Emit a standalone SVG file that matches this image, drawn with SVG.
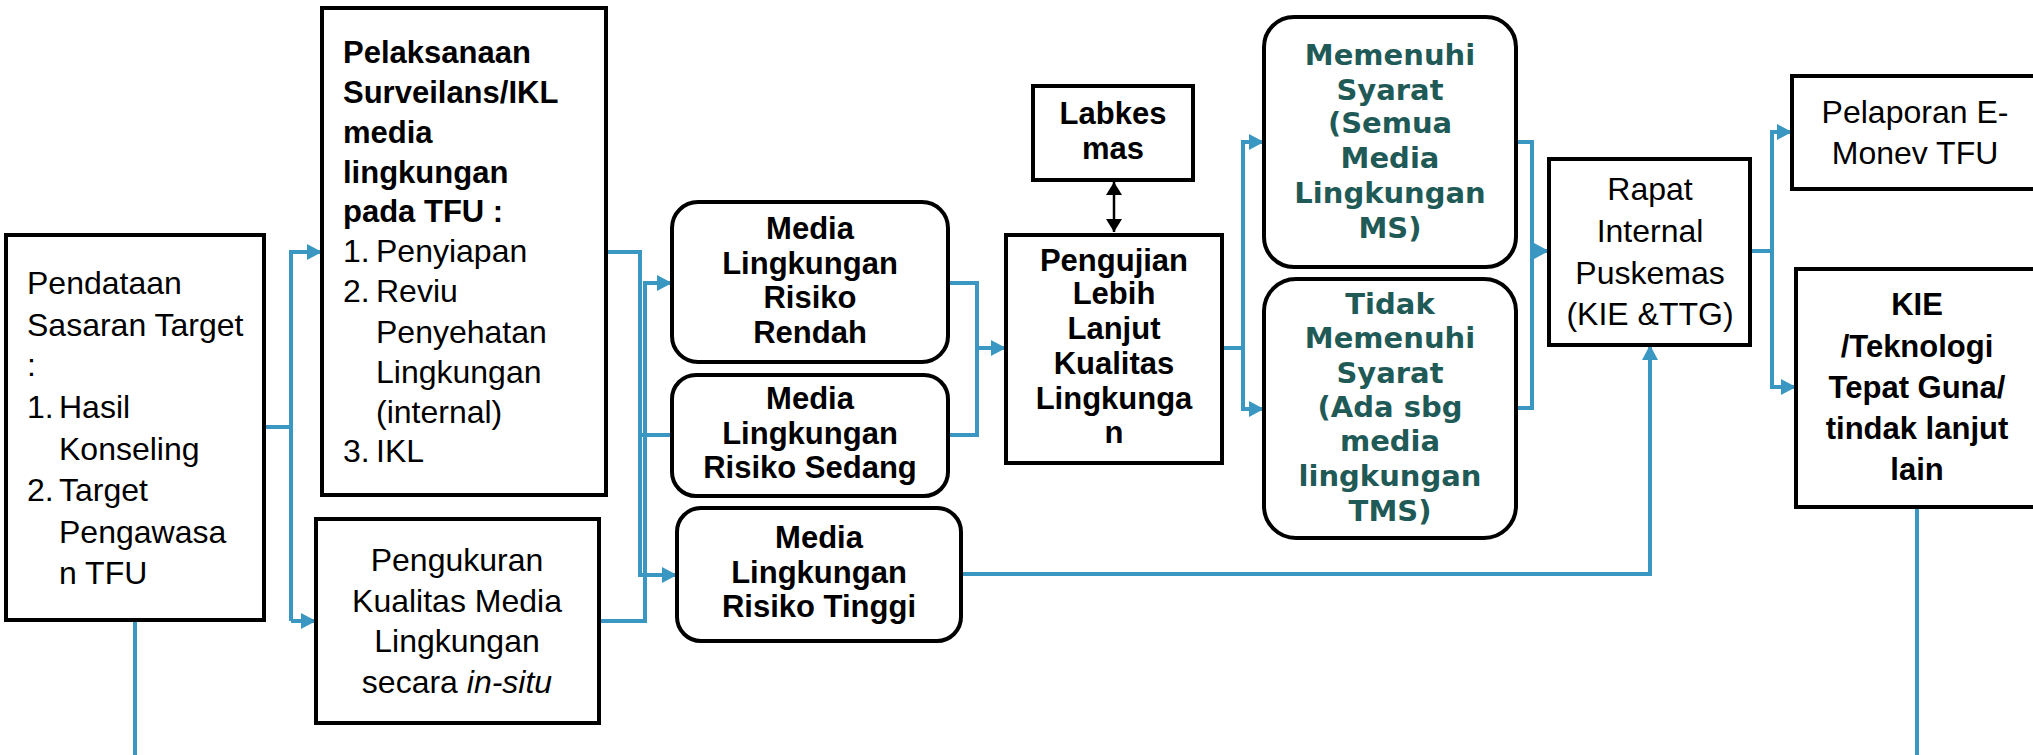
<svg xmlns="http://www.w3.org/2000/svg" width="2033" height="755" viewBox="0 0 2033 755">
<style>
.box{fill:#fff;stroke:#000;stroke-width:4}
.reg{font-family:"Liberation Sans",Arial,sans-serif;font-size:32px;fill:#000}
.bold{font-family:"Liberation Sans",Arial,sans-serif;font-size:31px;font-weight:bold;fill:#000}
.teal{font-family:"DejaVu Sans",sans-serif;font-size:29px;font-weight:bold;fill:#1f5a57}
.c{text-anchor:middle}
.con{fill:none;stroke:#3a97c1;stroke-width:4}
.arr{marker-end:url(#ah)}
</style>
<defs>
<marker id="ah" markerUnits="userSpaceOnUse" markerWidth="16" markerHeight="16" refX="15" refY="8" orient="auto">
<path d="M0,0 L15,8 L0,16 z" fill="#3a97c1"/>
</marker>
<marker id="bk" markerUnits="userSpaceOnUse" markerWidth="16" markerHeight="16" refX="13" refY="8" orient="auto-start-reverse">
<path d="M0,0 L13,8 L0,16 z" fill="#000"/>
</marker>
</defs>
<rect width="2033" height="755" fill="#fff"/>

<g id="connectors">
<path class="con" d="M264,427 H291 V621"/>
<path class="con arr" d="M291,427 V252 H322"/>
<path class="con arr" d="M291,621 H316"/>
<path class="con" d="M135,620 V755"/>
<path class="con arr" d="M606,252 H640 V575 H677"/>
<path class="con arr" d="M599,621 H645 V283 H672"/>
<path class="con" d="M640,435 H672"/>
<path class="con" d="M948,283 H977 V435 H948"/>
<path class="con arr" d="M977,348 H1006"/>
<path d="M1114,182 V232" stroke="#000" stroke-width="2.5" fill="none" marker-start="url(#bk)" marker-end="url(#bk)"/>
<path class="con" d="M1222,348 H1243"/>
<path class="con arr" d="M1243,348 V142 H1264"/>
<path class="con arr" d="M1243,348 V409 H1264"/>
<path class="con" d="M1516,142 H1532 V408 H1516"/>
<path class="con arr" d="M1532,251 H1549"/>
<path class="con arr" d="M961,574 H1650 V345"/>
<path class="con" d="M1750,251 H1772"/>
<path class="con arr" d="M1772,251 V132 H1792"/>
<path class="con arr" d="M1772,251 V387 H1796"/>
<path class="con" d="M1917,507 V755"/>
</g>

<g id="pendataan">
<rect class="box" x="6" y="235" width="258" height="385"/>
<text class="reg"><tspan x="27" y="294">Pendataan</tspan><tspan x="27" y="336">Sasaran Target</tspan><tspan x="27" y="376">:</tspan><tspan x="27" y="418">1.</tspan><tspan x="59" y="418">Hasil</tspan><tspan x="59" y="460">Konseling</tspan><tspan x="27" y="501">2.</tspan><tspan x="59" y="501">Target</tspan><tspan x="59" y="543">Pengawasa</tspan><tspan x="59" y="584">n TFU</tspan></text>
</g>

<g id="pelaksanaan">
<rect class="box" x="322" y="8" width="284" height="487"/>
<text class="bold"><tspan x="343" y="63">Pelaksanaan</tspan><tspan x="343" y="103">Surveilans/IKL</tspan><tspan x="343" y="143">media</tspan><tspan x="343" y="183">lingkungan</tspan><tspan x="343" y="222">pada TFU :</tspan></text>
<text class="reg"><tspan x="343" y="262">1.</tspan><tspan x="376" y="262">Penyiapan</tspan><tspan x="343" y="302">2.</tspan><tspan x="376" y="302">Reviu</tspan><tspan x="376" y="343">Penyehatan</tspan><tspan x="376" y="383">Lingkungan</tspan><tspan x="376" y="423">(internal)</tspan><tspan x="343" y="462">3.</tspan><tspan x="376" y="462">IKL</tspan></text>
</g>

<g id="pengukuran">
<rect class="box" x="316" y="519" width="283" height="204"/>
<text class="reg c"><tspan x="457" y="571">Pengukuran</tspan><tspan x="457" y="612">Kualitas Media</tspan><tspan x="457" y="652">Lingkungan</tspan><tspan x="457" y="693">secara <tspan font-style="italic">in-situ</tspan></tspan></text>
</g>

<g id="rendah">
<rect class="box" x="672" y="202" width="276" height="160" rx="26"/>
<text class="bold c"><tspan x="810" y="239">Media</tspan><tspan x="810" y="274">Lingkungan</tspan><tspan x="810" y="308">Risiko</tspan><tspan x="810" y="343">Rendah</tspan></text>
</g>

<g id="sedang">
<rect class="box" x="672" y="375" width="276" height="121" rx="24"/>
<text class="bold c"><tspan x="810" y="409">Media</tspan><tspan x="810" y="444">Lingkungan</tspan><tspan x="810" y="478">Risiko Sedang</tspan></text>
</g>

<g id="tinggi">
<rect class="box" x="677" y="508" width="284" height="133" rx="24"/>
<text class="bold c"><tspan x="819" y="548">Media</tspan><tspan x="819" y="583">Lingkungan</tspan><tspan x="819" y="617">Risiko Tinggi</tspan></text>
</g>

<g id="labkes">
<rect class="box" x="1033" y="86" width="160" height="94"/>
<text class="bold c"><tspan x="1113" y="124">Labkes</tspan><tspan x="1113" y="159">mas</tspan></text>
</g>

<g id="pengujian">
<rect class="box" x="1006" y="235" width="216" height="228"/>
<text class="bold c"><tspan x="1114" y="271">Pengujian</tspan><tspan x="1114" y="304">Lebih</tspan><tspan x="1114" y="339">Lanjut</tspan><tspan x="1114" y="374">Kualitas</tspan><tspan x="1114" y="409">Lingkunga</tspan><tspan x="1114" y="443">n</tspan></text>
</g>

<g id="ms">
<rect class="box" x="1264" y="17" width="252" height="250" rx="30"/>
<text class="teal c"><tspan x="1390" y="65">Memenuhi</tspan><tspan x="1390" y="100">Syarat</tspan><tspan x="1390" y="133">(Semua</tspan><tspan x="1390" y="168">Media</tspan><tspan x="1390" y="203">Lingkungan</tspan><tspan x="1390" y="238">MS)</tspan></text>
</g>

<g id="tms">
<rect class="box" x="1264" y="279" width="252" height="259" rx="32"/>
<text class="teal c"><tspan x="1390" y="314">Tidak</tspan><tspan x="1390" y="348">Memenuhi</tspan><tspan x="1390" y="383">Syarat</tspan><tspan x="1390" y="417">(Ada sbg</tspan><tspan x="1390" y="451">media</tspan><tspan x="1390" y="486">lingkungan</tspan><tspan x="1390" y="521">TMS)</tspan></text>
</g>

<g id="rapat">
<rect class="box" x="1549" y="159" width="201" height="186"/>
<text class="reg c"><tspan x="1650" y="200">Rapat</tspan><tspan x="1650" y="242">Internal</tspan><tspan x="1650" y="284">Puskemas</tspan><tspan x="1650" y="325">(KIE &amp;TTG)</tspan></text>
</g>

<g id="pelaporan">
<rect class="box" x="1792" y="76" width="260" height="113"/>
<text class="reg c"><tspan x="1915" y="123">Pelaporan E-</tspan><tspan x="1915" y="164">Monev TFU</tspan></text>
</g>

<g id="kie">
<rect class="box" x="1796" y="269" width="260" height="238"/>
<text class="bold c"><tspan x="1917" y="315">KIE</tspan><tspan x="1917" y="357">/Teknologi</tspan><tspan x="1917" y="398">Tepat Guna/</tspan><tspan x="1917" y="439">tindak lanjut</tspan><tspan x="1917" y="480">lain</tspan></text>
</g>
</svg>
